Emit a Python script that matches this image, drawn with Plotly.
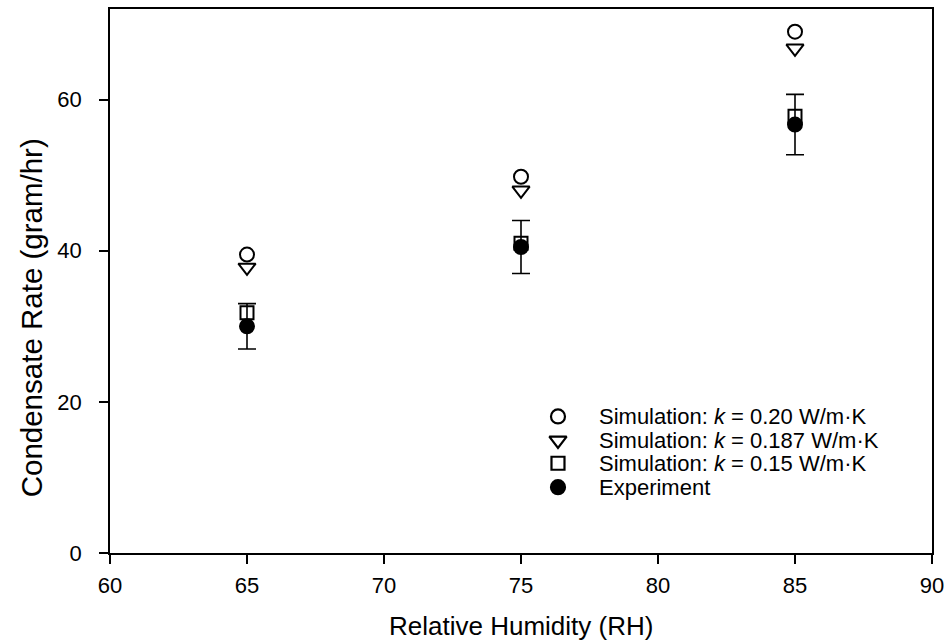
import plotly.graph_objects as go

# ---- data ----
rh = [65, 75, 85]
sim_k020 = [39.5, 49.8, 69.0]
sim_k0187 = [37.8, 48.0, 66.8]
sim_k015 = [31.8, 41.0, 57.8]
experiment = [30.0, 40.5, 56.7]
experiment_err = [3.0, 3.5, 4.0]

x_ticks = [60, 65, 70, 75, 80, 85, 90]
y_ticks = [0, 20, 40, 60]
x_title = "Relative Humidity (RH)"
y_title = "Condensate Rate (gram/hr)"

names = [
    "Simulation: <i>k</i> = 0.20 W/m·K",
    "Simulation: <i>k</i> = 0.187 W/m·K",
    "Simulation: <i>k</i> = 0.15 W/m·K",
    "Experiment",
]

# ---- styles ----
symbols = ["circle-open", "triangle-down-open", "square-open", "circle"]
sizes = [14, 15, 13, 14]
font = "Liberation Sans, Arial, sans-serif"

# legend key layout (paper fractions of the plot area)
leg_marker_x = 0.545
leg_text_x = 0.593
leg_rows_y = [0.251, 0.207, 0.165, 0.121]

series = [sim_k020, sim_k0187, sim_k015, experiment]

fig = go.Figure()
for i, ys in enumerate(series):
    kw = {}
    if i == 3:
        kw["error_y"] = dict(type="data", array=experiment_err, visible=True,
                             color="black", thickness=1.6, width=9)
    fig.add_trace(go.Scatter(
        x=rh, y=ys, mode="markers", name=names[i], showlegend=False,
        marker=dict(symbol=symbols[i], size=sizes[i], color="black",
                    line=dict(width=2, color="black")),
        **kw))

# manual legend keys on an overlay axis spanning [0,1]
for i in range(4):
    fig.add_trace(go.Scatter(
        x=[leg_marker_x], y=[leg_rows_y[i]], mode="markers", xaxis="x2", yaxis="y2",
        showlegend=False, hoverinfo="skip",
        marker=dict(symbol=symbols[i], size=sizes[i], color="black",
                    line=dict(width=2.2, color="black"))))
    fig.add_annotation(x=leg_text_x, y=leg_rows_y[i], xref="paper", yref="paper",
                       text=names[i], showarrow=False, xanchor="left", yanchor="middle",
                       font=dict(size=22, family=font, color="black"))

fig.add_annotation(x=0.5, y=-0.134, xref="paper", yref="paper", text=x_title,
                   showarrow=False, xanchor="center", yanchor="middle",
                   font=dict(size=26, family=font, color="black"))
fig.add_annotation(x=-0.0945, y=0.432, xref="paper", yref="paper", text=y_title,
                   showarrow=False, xanchor="center", yanchor="middle", textangle=-90,
                   font=dict(size=29.5, family=font, color="black"))

axis_common = dict(showgrid=False, zeroline=False, showline=True, linecolor="black",
                   linewidth=1.6, mirror=True, ticks="outside", ticklen=9, tickwidth=1.5,
                   tickcolor="black", tickfont=dict(size=22, family=font, color="black"))

fig.update_layout(
    width=951, height=644,
    margin=dict(l=110, r=16, t=7, b=91),
    plot_bgcolor="white", paper_bgcolor="white",
    font=dict(family=font, size=22, color="black"),
    showlegend=False,
    xaxis=dict(range=[60, 90], tickvals=x_ticks, ticklabelstandoff=3, **axis_common),
    yaxis=dict(range=[0, 72], tickvals=y_ticks, ticklabelstandoff=13, **axis_common),
    xaxis2=dict(range=[0, 1], overlaying="x", visible=False, fixedrange=True),
    yaxis2=dict(range=[0, 1], overlaying="y", visible=False, fixedrange=True),
)

fig.write_html("out.html")
